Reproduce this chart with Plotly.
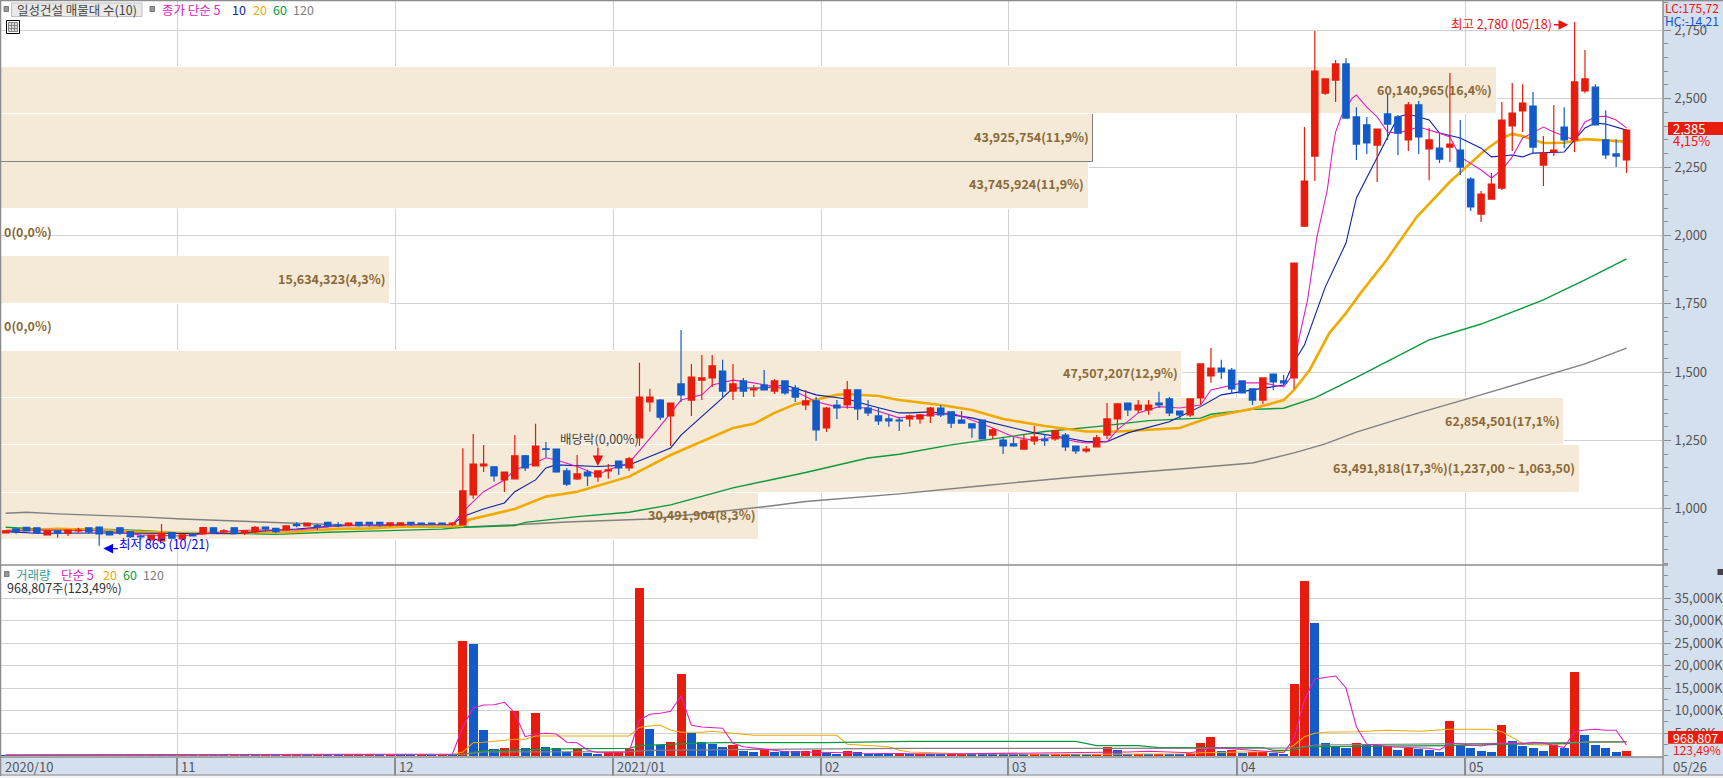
import plotly.graph_objects as go

W, H = 1723, 778
FONT = "Noto Sans CJK KR"

# ---------- daily candles ----------
opens = [912,927,933,931,905,920,911,920,931,934,917,931,917,901,887,883,913,890,910,909,931,916,931,911,916,934,929,923,943,938,939,951,942,940,951,951,951,942,942,951,948,948,948,944,
942,1051,1157,1154,1106,1110,1194,1157,1220,1219,1139,1110,1135,1117,1139,1175,1150,1260,1391,1398,1340,1457,1398,1471,1479,1504,1431,1468,1435,1453,1431,1468,1442,1380,1395,1296,1380,1380,1435,1369,1340,1329,1325,1329,1329,1340,1369,1355,1325,1311,1325,1270,1252,1238,1219,1249,1254,1256,1270,1230,1212,1227,1270,1329,1387,1362,1362,1387,1402,1358,1344,1406,1486,1515,1508,1468,1439,1398,1493,1468,1479,
2034,2290,2520,2568,2627,2433,2404,2330,2444,2433,2349,2477,2316,2319,2323,2312,2206,2078,2133,2173,2400,2455,2473,2257,2305,2396,2349,2528,2542,2349,2298,2276]
closes = [920,915,920,913,920,911,923,923,916,909,905,912,899,898,903,911,893,905,901,932,913,920,910,920,933,927,917,938,939,948,935,938,938,948,939,944,944,949,949,945,943,943,943,948,
1066,1164,1164,1121,1135,1194,1150,1230,1218,1135,1091,1128,1121,1139,1143,1150,1183,1409,1409,1336,1387,1417,1482,1479,1523,1431,1457,1431,1439,1435,1468,1424,1409,1395,1289,1369,1369,1435,1366,1351,1322,1322,1322,1340,1344,1369,1344,1314,1314,1296,1256,1289,1230,1230,1252,1263,1250,1285,1227,1212,1219,1260,1329,1384,1362,1380,1380,1380,1351,1344,1402,1530,1515,1501,1439,1424,1398,1479,1464,1461,1899,
2199,2601,2572,2627,2429,2334,2338,2389,2407,2374,2477,2360,2349,2279,2334,2250,2104,2151,2188,2422,2447,2484,2323,2301,2312,2349,2561,2572,2404,2294,2290,2385]
highs = [921,927,933,931,920,920,923,931,931,934,920,931,917,905,903,945,913,905,913,934,931,927,931,920,938,934,929,938,951,948,945,951,952,951,951,951,951,949,951,951,948,948,948,951,
1222,1274,1234,1154,1135,1270,1197,1311,1245,1219,1150,1197,1143,1139,1164,1175,1190,1534,1439,1402,1387,1654,1530,1563,1563,1545,1530,1479,1453,1508,1475,1468,1453,1435,1409,1373,1398,1468,1435,1398,1373,1344,1336,1344,1347,1373,1380,1355,1358,1311,1325,1296,1263,1263,1274,1303,1274,1285,1278,1230,1230,1270,1387,1387,1387,1398,1398,1428,1409,1358,1402,1530,1588,1545,1515,1468,1439,1479,1493,1490,1899,
2396,2747,2572,2641,2648,2469,2433,2389,2513,2440,2488,2491,2393,2371,2594,2422,2213,2162,2228,2488,2557,2553,2524,2363,2477,2469,2780,2678,2553,2458,2352,2389]
lows = [911,909,920,913,905,895,901,912,909,865,905,905,894,887,887,883,893,890,901,909,913,909,910,905,911,917,911,923,933,938,923,933,933,940,935,935,935,935,942,938,943,943,943,938,
942,1037,1135,1100,1062,1110,1139,1157,1189,1132,1084,1106,1084,1099,1110,1124,1139,1230,1355,1325,1230,1391,1340,1398,1446,1409,1398,1409,1409,1435,1420,1417,1391,1362,1249,1281,1329,1366,1325,1340,1307,1300,1285,1300,1311,1314,1336,1296,1311,1260,1256,1256,1201,1227,1219,1234,1230,1249,1212,1201,1205,1227,1256,1289,1340,1351,1344,1369,1340,1329,1336,1380,1461,1475,1420,1424,1380,1384,1435,1453,1439,
2031,2199,2513,2488,2429,2276,2298,2195,2349,2294,2309,2298,2202,2265,2268,2221,2089,2049,2133,2166,2309,2378,2298,2181,2290,2319,2305,2520,2404,2279,2250,2228]
day_index = list(range(len(opens)))

# ---------- moving averages of price, read point by point ----------
ma5_i = [0,4,9,13,17,22,24,28,32,38,43,44,46,48,49,51,52,53,55,57,58,60,62.7,65,67,68,70,72,74,76,78,80,83,86,89,91,93,95,97,99,101,103,104,106,107,109,111,113,115,116,119,121,123,124,124.4,125.3,126.2,127.2,127.7,128,128.6,129.6,130,131,132,133,134,136,138,139,140,142,143,144,145,146,148,149,151,152,153,154,155,156]
ma5_v = [920,923,920,905,901,920,923,923,938,942,942,990,1063,1106,1143,1169,1187,1179,1155,1124,1143,1168,1289,1398,1417,1453,1471,1461,1447,1429,1392,1373,1369,1333,1344,1351,1325,1296,1264,1250,1264,1246,1241,1246,1289,1351,1374,1369,1380,1435,1461,1461,1446,1497,1610,1764,1994,2166,2312,2378,2440,2502,2513,2469,2433,2378,2374,2396,2374,2360,2287,2239,2210,2239,2287,2356,2396,2378,2349,2415,2433,2436,2422,2393]
ma10_i = [0,3,9,16,22,25,28,32,38,43,44,46,48,49,51,52,53,57,60,64,65,67,69,70,73,75,78,81,83,86,87,89,91,93,97,99,102,104,106,108,112,115,117,119,123,124,125,127,129,130,132,133,134,135,137,138,140,142,143,145,146,147,150,151,152,153,154,156]
ma10_v = [917,911,912,909,909,920,926,939,942,944,972,1000,1022,1063,1106,1150,1161,1155,1161,1223,1270,1337,1406,1442,1442,1453,1417,1402,1380,1351,1351,1355,1344,1333,1296,1278,1260,1246,1246,1278,1319,1374,1417,1429,1453,1537,1599,1811,1972,2137,2287,2360,2433,2444,2422,2374,2356,2319,2287,2294,2287,2301,2305,2349,2393,2411,2407,2385]
ma20_i = [0,3,5,9,13,17,22,25,28,29,32,35,38,44,44.5,49,52,55,58,60,64,67,70,72,74,76,80,81,84,86,90,93,96,100,104,107,110,113,116,120,123,124,125.5,127.4,129,130.4,132.9,135.8,139,142.2,144,145,146,148,150,152,156]
ma20_v = [920,925,927,923,916,912,914,913,916,921,927,929,935,938,960,1000,1045,1063,1096,1118,1197,1246,1296,1311,1351,1383,1417,1420,1413,1398,1380,1362,1329,1303,1283,1283,1289,1296,1336,1366,1398,1435,1508,1643,1716,1789,1910,2067,2196,2306,2356,2371,2363,2338,2339,2352,2343]
ma60_i = [0,3,9,13,17,21,26,28,31,35,39,42,44,49,50,55,60,64,70,77,83,86,91,94,100,105,110,115,116,120,123,126,130,137,142,148,152,156]
ma60_v = [933,927,926,921,911,912,907,911,915,919,922,926,933,939,951,972,988,1015,1077,1133,1186,1200,1234,1250,1283,1301,1323,1332,1346,1364,1368,1406,1481,1618,1676,1764,1837,1914]
ma120_i = [0,2,5,9,13,17,23,26,30,32,39,45,49,54,62,70,73,77,86,94,103,113,120,124,127,130,136,141,147,152,156]
ma120_v = [984,988,982,977,971,963,954,949,943,942,934,935,942,952,963,994,1008,1027,1055,1085,1117,1146,1168,1205,1238,1281,1351,1406,1475,1530,1588]

# ---------- volume (thousand shares) ----------
volume = [90,110,80,120,70,100,130,60,90,150,80,70,100,60,120,160,90,80,70,130,90,60,100,80,120,70,80,110,280,240,300,210,190,260,300,320,230,290,220,210,240,200,260,180,
25400,24730,5620,1400,1620,9840,1620,9400,1840,1620,800,1620,510,290,800,800,1400,37170,5840,2290,2950,18060,4950,2950,2510,1840,2290,955,730,1400,730,955,955,955,1180,580,290,955,730,290,290,290,510,
220,280,220,200,240,260,230,220,210,200,190,180,170,220,230,200,190,220,300,
1840,1180,350,420,300,380,290,260,510,2730,4070,955,1180,510,800,900,510,290,15840,38730,29400,2730,1910,1620,2740,2290,2290,2070,1180,1780,1480,1180,740,7620,2070,1630,960,740,6730,3180,2070,1630,960,2520,1630,18500,4510,2290,1630,785,969]
vol_up = list("BRBRBRRBRRBBRBRBBRBRBBRBBRBR" + "RBRBBRRRBRBBRBRB"
              + "RBBBRRBRBBBRBBRRRRBBRRBBBBRBBRBBBRRBBRBBBBR"
              + "BRBBRRBBBBBBRBRRBBRRBBRBRBBRRRBRBRRBBRRBBBB"
              + "RBBRBRBBBRBBBBRBBBBRBRBBBBR")
vma5_i = [0,43,44,45,46,47,48,49,50,51,52,53,54,55,56,57,60,61,62,63,64,65,66,67,69,70,71,72,73,74,75,77,78,81,82,90,106,108,110,112,114,115,116,117,120,122,123,124,125,126,127,128,129,130,131,132,133,135,137,138,139,140,141,142,143,144,145,146,147,148,149,150,151,152,153,154,155,156]
vma5_v = [90,355,6420,10580,11240,11310,11840,9470,4200,4800,4955,4800,2955,2870,1245,645,800,7910,9180,9400,9840,13240,6730,6350,6070,2730,1980,1755,1465,1180,865,865,735,645,510,355,645,800,950,735,645,1020,1690,1690,1180,735,645,3840,12350,17020,17310,17690,15020,6420,2510,2355,1980,1845,1620,1245,2730,2580,2355,2130,2580,2730,2730,2580,2955,2870,2200,1845,5310,5690,5840,5620,5620,2290]
vma20_i = [0,43,44,45,46,48,49,50,51,60,61,62,63,64,65,67,68,70,72,80,81,85,86,87,92,105,114,115,118,123,124,125,126,127,130,133,136,139,143,144,146,147,148,150,151,153,156]
vma20_v = [90,290,800,2870,2955,3310,3620,3620,4355,4355,6290,6580,6730,5690,5180,5180,5400,4955,4510,4510,2510,1980,1180,800,420,290,420,645,800,955,2355,4200,4955,5180,5310,5620,5400,5840,5840,5310,2730,2420,2355,2580,2870,3090,3090]
vma60_i = [0,44,46,50,55,60,61,66,69,79,87,103,105,109,111,121,122,123,124,125,126,139,144,151,152,156]
vma60_v = [90,290,1090,1310,1530,1620,2200,2730,2870,2870,3180,3180,2200,2200,1755,1755,1180,1180,1245,1910,1980,2200,2510,2730,3020,3020]
vma120_i = [0,44,46,60,62,86,105,124,126,139,144,150,156]
vma120_v = [90,290,800,865,1180,1620,1620,1690,2355,2580,2645,2870,3090]

# ---------- volume by price (매물대) ----------
band_floor = [887.0,1059.8,1232.6,1405.4,1578.2,1751.0,1923.8,2096.6,2269.4,2442.2]
band_size = 172.8
band_volume = [30491904,63491818,62854501,47507207,0,15634323,0,43745924,43925754,60140965]
band_label = ["30,491,904(8,3%)","63,491,818(17,3%)(1,237,00 ~ 1,063,50)","62,854,501(17,1%)","47,507,207(12,9%)","0(0,0%)","15,634,323(4,3%)","0(0,0%)","43,745,924(11,9%)","43,925,754(11,9%)","60,140,965(16,4%)"]
band_current = [False,False,False,False,False,False,False,False,True,False]

# ---------- axes text ----------
month_start = [0,17,38,59,79,97,119,141]  # first trading day of each month
month_names = ["2020/10","11","12","2021/01","02","03","04","05"]
price_ticks = [1000,1250,1500,1750,2000,2250,2500,2750]
volume_ticks = [5000,10000,15000,20000,25000,30000,35000]
volume_tick_text = ["5,000K","10,000K","15,000K","20,000K","25,000K","30,000K","35,000K"]

RED, BLUE = "#e81c0c", "#125bc8"
MAG, NAVY, ORG, GRN, GRY = "#e020c0", "#0a22aa", "#f0aa00", "#0a9a3a", "#808080"
GRID = "#d2d2d2"; FRAME = "#8c8c8c"; PANEL = "#d5e0ee"; TXT = "#555555"

def fx(p): return p / W
def fy(p): return 1 - p / H

XR = [-0.449, 159.51]
PR = [795, 2857]
VR = [-311, 42351]
DX = [fx(1), fx(1663)]
DP = [fy(565), fy(1)]
DV = [fy(757), fy(565)]
grid_x = [m - 0.5 for m in month_start[1:]]

fig = go.Figure()

# profile bars are the base layer
fig.add_trace(go.Bar(
    x=band_volume, y=[f + band_size / 2 for f in band_floor], orientation="h", width=band_size,
    marker=dict(color="#f5e9d7",
                line=dict(color=[GRY if c else "#ffffff" for c in band_current], width=1)),
    xaxis="x", yaxis="y", hoverinfo="skip", showlegend=False))

# price averages under the candles
for xs, ys, col, wd in [(ma120_i, ma120_v, GRY, 1.4), (ma60_i, ma60_v, GRN, 1.4), (ma20_i, ma20_v, ORG, 2.6),
                        (ma10_i, ma10_v, NAVY, 1.1), (ma5_i, ma5_v, MAG, 1.1)]:
    fig.add_trace(go.Scatter(x=xs, y=ys, mode="lines", line=dict(color=col, width=wd),
                             xaxis="x2", yaxis="y", hoverinfo="skip", showlegend=False))

fig.add_trace(go.Candlestick(
    x=day_index, open=opens, high=highs, low=lows, close=closes, whiskerwidth=0,
    increasing=dict(line=dict(color=RED, width=1.2), fillcolor=RED),
    decreasing=dict(line=dict(color=BLUE, width=1.2), fillcolor=BLUE),
    xaxis="x4", yaxis="y", showlegend=False))

# volume panel
fig.add_trace(go.Bar(x=day_index, y=volume, width=0.87,
                     marker=dict(color=[RED if f == "R" else BLUE for f in vol_up], line=dict(width=0)),
                     xaxis="x3", yaxis="y2", hoverinfo="skip", showlegend=False))
for xs, ys, col, wd in [(vma20_i, vma20_v, ORG, 1.1), (vma60_i, vma60_v, GRN, 1.2),
                        (vma120_i, vma120_v, GRY, 1.2), (vma5_i, vma5_v, MAG, 1.1)]:
    fig.add_trace(go.Scatter(x=xs, y=ys, mode="lines", line=dict(color=col, width=wd),
                             xaxis="x3", yaxis="y2", hoverinfo="skip", showlegend=False))

ann = []
def label(x, y, text, color=TXT, size=12.5, anchor="left", bold=False, bg=None):
    ann.append(dict(xref="paper", yref="paper", x=fx(x), y=fy(y), text=f"<b>{text}</b>" if bold else text,
                    showarrow=False, xanchor=anchor, yanchor="middle", align=anchor,
                    font=dict(family=FONT, size=size, color=color), borderpad=0,
                    bgcolor=bg))

# band labels tied to the bars
for f, v, t in zip(band_floor, band_volume, band_label):
    ann.append(dict(xref="x", yref="y", x=v, y=f + band_size / 2, text=f"<b>{t}</b>", showarrow=False,
                    xanchor="right" if v else "left", xshift=-2.5 if v else 1, yshift=1.5, yanchor="middle",
                    font=dict(family=FONT, size=12.5, color="#8a6a38")))

# date band
for m, n in zip(month_start, month_names):
    ann.append(dict(xref="x3", yref="paper", x=m - 0.5 if m else -0.449, y=fy(766), text=n, showarrow=False,
                    xanchor="left", xshift=2, yanchor="middle",
                    font=dict(family=FONT, size=13, color=TXT)))
label(1672, 766, "05/26", size=13)

# legends
label(16, 9.5, "일성건설 매물대 수(10)", color="#444444", size=12.5)
label(161, 9.5, "종가 단순 5", color=MAG)
label(231, 9.5, "10", color=NAVY)
label(252, 9.5, "20", color=ORG)
label(272, 9.5, "60", color=GRN)
label(292, 9.5, "120", color=GRY)
label(15, 574.5, "거래량", color="#3a9a9a")
label(60, 574.5, "단순 5", color=MAG)
label(102, 574.5, "20", color=ORG)
label(122, 574.5, "60", color=GRN)
label(142, 574.5, "120", color=GRY)
label(6, 587.5, "968,807주(123,49%)", color="#333333")

# right column
label(1664, 8, "LC:175,72", color="#ff1010", size=12)
label(1664, 20, "HC:-14,21", color="#1050d8", size=12)
label(1672, 128.5, "2,385", color="#ffffff", size=13)
label(1672, 141, "4,15%", color="#ff1010", size=13)
label(1672, 737.5, "968,807", color="#ffffff", size=12.5)
label(1672, 749.5, "123,49%", color="#ff1010", size=12)

# marks on the candles
label(1450, 24, "최고 2,780 (05/18)", color="#f01010", size=12.5)
ann.append(dict(xref="x4", yref="y", x=150.4, y=2770, ax=-16, ay=0, axref="pixel", ayref="pixel", text="",
                showarrow=True, arrowcolor="#f01010", arrowhead=2, arrowwidth=1.4, arrowsize=1.4))
label(118, 543, "최저 865 (10/21)", color="#0000f0", size=12.5)
ann.append(dict(xref="x4", yref="y", x=9.4, y=855, ax=16, ay=0, axref="pixel", ayref="pixel", text="",
                showarrow=True, arrowcolor="#0000f0", arrowhead=2, arrowwidth=1.4, arrowsize=1.4))
label(559, 438, "배당락(0,00%)", color="#444444", size=12.5)
ann.append(dict(xref="x4", yref="y", x=57, y=1157, ax=0, ay=-20, axref="pixel", ayref="pixel", text="",
                showarrow=True, arrowcolor="#f01010", arrowhead=2, arrowwidth=1.3, arrowsize=1.6))

def rect(x0, y0, x1, y1, fill=None, line=None, lw=1, layer="above"):
    return dict(type="rect", xref="paper", yref="paper", x0=fx(x0), x1=fx(x1), y0=fy(y0), y1=fy(y1),
                fillcolor=fill if fill else "rgba(0,0,0,0)", line=dict(color=line, width=lw if line else 0), layer=layer)
def hline(y, x0, x1, col=FRAME, lw=1.5):
    return dict(type="line", xref="paper", yref="paper", x0=fx(x0), x1=fx(x1), y0=fy(y), y1=fy(y),
                line=dict(color=col, width=lw), layer="above")
def vline(x, y0, y1, col=FRAME, lw=1.5):
    return dict(type="line", xref="paper", yref="paper", x0=fx(x), x1=fx(x), y0=fy(y0), y1=fy(y1),
                line=dict(color=col, width=lw), layer="above")

shapes = [
    rect(0, 775.5, W, H, fill="#f4f4f4"),
    hline(0.5, 0, W), vline(0.5, 0, 776),
    hline(565, 0, 1668), hline(757, 0, 1663), hline(775, 0, W, lw=1),
    vline(1663, 0, 775),
    rect(11.5, 3, 142, 16.5, fill="#e9e9e9", line="#c0c0c0"),
    rect(4, 6.5, 8.5, 11.5, fill="#999999", line="#777777"),
    rect(150, 6.5, 154.5, 11.5, fill="#999999", line="#777777"),
    rect(4.5, 571.5, 9, 576.5, fill="#999999", line="#777777"),
    rect(6.5, 20.5, 19.5, 33.5, fill="#ffffff", line="#000000"),
    rect(8.5, 22.5, 17.5, 31.5, fill="#d8d8d8", line="#888888"),
    hline(25.5, 8.5, 17.5, col="#888888", lw=1), hline(28.5, 8.5, 17.5, col="#888888", lw=1),
    vline(11.5, 22.5, 31.5, col="#888888", lw=1), vline(14.5, 22.5, 31.5, col="#888888", lw=1),
    rect(1668, 122, W, 135, fill="#e81c0c"),
    rect(1668, 731, W, 743.7, fill="#e81c0c"),
    rect(1717.5, 569, 1723, 575, fill="#444444"),
]

hidden = dict(visible=False, fixedrange=True)
fig.update_layout(
    width=W, height=H, margin=dict(l=0, r=0, t=0, b=0), autosize=False,
    paper_bgcolor=PANEL, plot_bgcolor="#ffffff", showlegend=False, barmode="overlay",
    boxgap=0.13, bargap=0, dragmode=False, hovermode=False,
    xaxis=dict(domain=DX, range=[0, 66830000], anchor="y", **hidden),
    xaxis2=dict(domain=DX, range=XR, overlaying="x", anchor="y", side="top", tickmode="array", tickvals=grid_x,
                showticklabels=False, ticks="", showgrid=True, gridcolor=GRID, gridwidth=1, zeroline=False,
                showline=False, fixedrange=True),
    xaxis3=dict(domain=DX, range=XR, anchor="y2", tickmode="array", tickvals=grid_x, showticklabels=False,
                ticks="outside", ticklen=18, tickcolor=FRAME, tickwidth=1.5, showgrid=True, gridcolor=GRID, gridwidth=1,
                zeroline=False, showline=False, fixedrange=True),
    xaxis4=dict(domain=DX, range=XR, overlaying="x", anchor="y", visible=False, fixedrange=True,
                rangeslider=dict(visible=False)),
    yaxis=dict(domain=DP, range=PR, side="right", anchor="x", tickmode="array", tickvals=price_ticks,
               tickformat=",d", ticks="outside", ticklen=7, tickcolor=FRAME, tickwidth=1,
               tickfont=dict(family=FONT, size=13, color=TXT), showgrid=True, gridcolor=GRID, gridwidth=1,
               zeroline=False, showline=False, fixedrange=True, ticklabelstandoff=1,
               minor=dict(dtick=50, tick0=0, ticks="outside", ticklen=4, tickcolor=FRAME, tickwidth=1, showgrid=False)),
    yaxis2=dict(domain=DV, range=VR, side="right", anchor="x3", tickmode="array", tickvals=volume_ticks,
                ticktext=volume_tick_text, ticks="outside", ticklen=7, tickcolor=FRAME, tickwidth=1,
                tickfont=dict(family=FONT, size=13, color=TXT), showgrid=True, gridcolor=GRID, gridwidth=1,
                zeroline=False, showline=False, fixedrange=True, ticklabelstandoff=1,
                minor=dict(dtick=2500, tick0=0, ticks="outside", ticklen=4, tickcolor=FRAME, tickwidth=1, showgrid=False)),
    annotations=ann, shapes=shapes,
    font=dict(family=FONT),
)

fig.write_html("out.html", post_script="document.body.style.margin='0';document.body.style.overflow='hidden';",
               config=dict(displayModeBar=False))
